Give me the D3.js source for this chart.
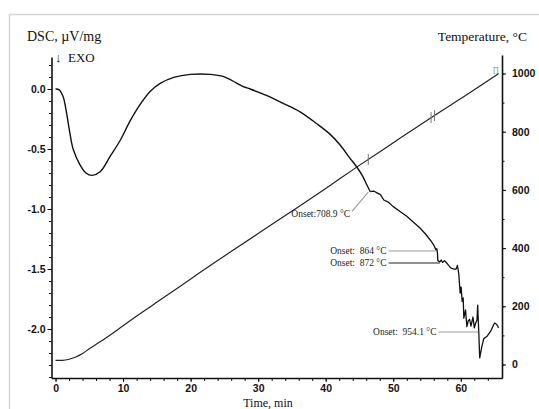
<!DOCTYPE html>
<html>
<head>
<meta charset="utf-8">
<script src="https://cdn.jsdelivr.net/npm/d3@7"></script>
<style>
  body { margin: 0; background: #fff; }
  svg { display: block; }
  .tick text { font-family: "Liberation Sans", Arial, sans-serif; font-weight: bold; font-size: 10.5px; fill: #111; }
  .axis path, .axis line { stroke: #111; }
  .ttl { font-family: "Liberation Serif", "Times New Roman", serif; fill: #111; white-space: pre; }
  .onset { font-family: "Liberation Serif", "Times New Roman", serif; font-size: 9.5px; fill: #222; white-space: pre; }
</style>
</head>
<body>
<svg id="chart" width="539" height="409"></svg>
<script>
// DSC curve, smooth part: [time min, DSC uV/mg]
var dscSmooth = [[0,0],[0.5,-0.005],[1.1,-0.06],[1.6,-0.19],[2.1,-0.36],[2.6,-0.5],[3.6,-0.63],[4.5,-0.7],[5.4,-0.72],
  [6.6,-0.69],[8.1,-0.56],[9.6,-0.425],[11,-0.27],[12.5,-0.13],[14,-0.02],[15.5,0.047],[17.5,0.097],[20,0.122],
  [22.9,0.122],[24.9,0.103],[26.8,0.05],[27.8,0.02],[28.8,0],[31.3,-0.056],[33.7,-0.12],[36.2,-0.19],[38.7,-0.29],
  [40.7,-0.38],[42.1,-0.465],[43.5,-0.57],[44.6,-0.65],[45.4,-0.72],[46.1,-0.8],[46.6,-0.856]];
// DSC curve, rough part after the first onset
var dscRough = [[46.6,-0.856],[47.1,-0.85],[47.6,-0.865],[48.1,-0.88],[48.6,-0.925],[49.2,-0.94],[50,-0.98],[51,-1.02],
  [52,-1.06],[53,-1.11],[54,-1.16],[54.8,-1.21],[55.5,-1.26],[56.0,-1.3],[56.3,-1.34],[56.45,-1.33],[56.55,-1.37],
  [56.6,-1.43],[56.9,-1.44],[57.1,-1.425],[57.3,-1.445],[57.6,-1.43],[57.9,-1.45],[58.2,-1.47],[58.5,-1.49],[59.0,-1.5],
  [59.3,-1.5],[59.5,-1.47],[59.7,-1.54],[59.9,-1.7],[60.05,-1.65],[60.2,-1.77],[60.35,-1.74],[60.45,-1.91],[60.7,-1.84],
  [60.9,-1.98],[61.1,-1.93],[61.3,-1.92],[61.5,-1.975],[61.8,-1.9],[62.0,-1.99],[62.2,-1.95],[62.4,-1.925],[62.5,-1.8],
  [62.65,-2.01],[62.8,-2.24],[63.1,-2.15],[63.4,-2.08],[63.9,-2.06],[64.4,-2.02],[65.0,-1.95],[65.3,-1.96],[65.6,-1.99]];
// temperature programme: [time min, T degC]
var tempData = [[0,14],[1,14.5],[2,18],[3,26],[4,38],[5,54],[6.6,78],[9.1,118],[11.5,158],[14,198],[16.5,238],
  [18.9,276],[21,310],[30,450],[40,605],[44.7,680],[50,762],[56.5,862],[60,914],[65.6,1000]];

var xTicks = [0,10,20,30,40,50,60];
var dscTicks = [0,-0.5,-1,-1.5,-2];
var tempTicks = [0,200,400,600,800,1000];

// onset annotations
var onsetText = ["Onset:708.9 \u00b0C","Onset:  864 \u00b0C","Onset:  872 \u00b0C","Onset:  954.1 \u00b0C"];
var onsetTime = [46.3, 56.3, 56.9, 62.6];      // where leader meets curve
var onsetDSC = [-0.86, -1.35, -1.45, -2.025];
var leaderTime = [43.9, 49.3, 49.3, 56.7];     // where leader starts (label side)
var leaderDSC = [-1.02, -1.35, -1.45, -2.025];
var onsetColor = ["#999", "#999", "#222", "#999"];
// marks on temperature line
var tMarks = [46.3, 55.6, 56.1];

var svg = d3.select("#chart");

// frame
svg.append("rect").attr("x", 9.5).attr("y", 14.5).attr("width", 540).attr("height", 400)
  .attr("fill", "none").attr("stroke", "#d6d6d6").attr("stroke-width", 1.5);

var x = d3.scaleLinear().domain([-0.6, 66.1]).range([51.5, 502]);
var yL = d3.scaleLinear().domain([0.2667, -2.408]).range([57, 378]);
var yR = d3.scaleLinear().domain([1063.6, -46.4]).range([55, 378]);

// minor ticks
svg.append("g").attr("class", "axis").attr("transform", "translate(0,378)")
  .call(d3.axisBottom(x).tickValues(d3.range(0, 66, 2)).tickSize(3).tickFormat("").tickSizeOuter(0))
  .call(function(g){ g.select(".domain").remove(); });
svg.append("g").attr("class", "axis").attr("transform", "translate(51.5,0)")
  .call(d3.axisLeft(yL).tickValues(d3.range(-24, 3).map(function(i){ return i/10; })).tickSize(2.5).tickFormat("").tickSizeOuter(0))
  .call(function(g){ g.select(".domain").remove(); });
svg.append("g").attr("class", "axis").attr("transform", "translate(502,0)")
  .call(d3.axisRight(yR).tickValues(d3.range(0, 1100, 100)).tickSize(2.5).tickFormat("").tickSizeOuter(0))
  .call(function(g){ g.select(".domain").remove(); });

// main axes
svg.append("g").attr("class", "axis").attr("transform", "translate(0,378)")
  .call(d3.axisBottom(x).tickValues(xTicks).tickSize(4).tickPadding(3).tickSizeOuter(0))
  .selectAll(".domain").attr("stroke-width", 1.6);
svg.append("g").attr("class", "axis").attr("transform", "translate(51.5,0)")
  .call(d3.axisLeft(yL).tickValues(dscTicks).tickSize(4).tickPadding(2).tickSizeOuter(0)
    .tickFormat(function(d){ return d.toFixed(1); }))
  .selectAll(".domain").attr("stroke-width", 1.6);
svg.append("g").attr("class", "axis").attr("transform", "translate(502,0)")
  .call(d3.axisRight(yR).tickValues(tempTicks).tickSize(4).tickPadding(6).tickSizeOuter(0)
    .tickFormat(d3.format("d")))
  .selectAll(".domain").attr("stroke-width", 1.6);

// temperature line
var tLine = d3.line().x(function(d){ return x(d[0]); }).y(function(d){ return yR(d[1]); }).curve(d3.curveMonotoneX);
svg.append("path").datum(tempData).attr("d", tLine)
  .attr("fill", "none").attr("stroke", "#222").attr("stroke-width", 1.2);

var tInterp = function(t){
  for (var i = 1; i < tempData.length; i++) {
    if (t <= tempData[i][0]) {
      var a = tempData[i-1], b = tempData[i];
      return a[1] + (b[1]-a[1]) * (t-a[0]) / (b[0]-a[0]);
    }
  }
  return tempData[tempData.length-1][1];
};
svg.selectAll(".tmark").data(tMarks).enter().append("line")
  .attr("class", "tmark")
  .attr("x1", function(d){ return x(d); }).attr("x2", function(d){ return x(d); })
  .attr("y1", function(d){ return yR(tInterp(d)) - 5.5; })
  .attr("y2", function(d){ return yR(tInterp(d)) + 5.5; })
  .attr("stroke", "#777").attr("stroke-width", 1);
svg.append("text").attr("x", x(65.2)).attr("y", yR(1004))
  .attr("text-anchor", "middle").attr("font-size", 7).attr("fill", "#777")
  .attr("font-family", "Liberation Sans, sans-serif").text("[']");

// DSC curve
var dLineSmooth = d3.line().x(function(d){ return x(d[0]); }).y(function(d){ return yL(d[1]); }).curve(d3.curveCatmullRom.alpha(0.5));
var dLine = d3.line().x(function(d){ return x(d[0]); }).y(function(d){ return yL(d[1]); });
svg.append("path").datum(dscSmooth).attr("d", dLineSmooth)
  .attr("fill", "none").attr("stroke", "#111").attr("stroke-width", 1.4);
svg.append("path").datum(dscRough).attr("d", dLine)
  .attr("fill", "none").attr("stroke", "#111").attr("stroke-width", 1.3).attr("stroke-linejoin", "round");

// onset leaders and labels
onsetText.forEach(function(s, i){
  svg.append("line")
    .attr("x1", x(leaderTime[i])).attr("y1", yL(leaderDSC[i]))
    .attr("x2", x(onsetTime[i])).attr("y2", yL(onsetDSC[i]))
    .attr("stroke", onsetColor[i]).attr("stroke-width", 1.1);
  svg.append("text").attr("class", "onset")
    .attr("x", x(leaderTime[i]) - 2)
    .attr("y", yL(leaderDSC[i]) + (i === 0 ? 6 : 3.2))
    .attr("text-anchor", "end")
    .text(s);
});

// titles
svg.append("text").attr("class", "ttl").attr("x", 27).attr("y", 41).attr("font-size", 14).text("DSC, \u00b5V/mg");
svg.append("text").attr("class", "ttl").attr("x", 55).attr("y", 62).attr("font-size", 13).text("\u2193  EXO");
svg.append("text").attr("class", "ttl").attr("x", 527).attr("y", 41).attr("font-size", 13.5)
  .attr("text-anchor", "end").text("Temperature, \u00b0C");
svg.append("text").attr("class", "ttl").attr("x", 268).attr("y", 407).attr("font-size", 12)
  .attr("text-anchor", "middle").text("Time, min");
</script>
</body>
</html>
